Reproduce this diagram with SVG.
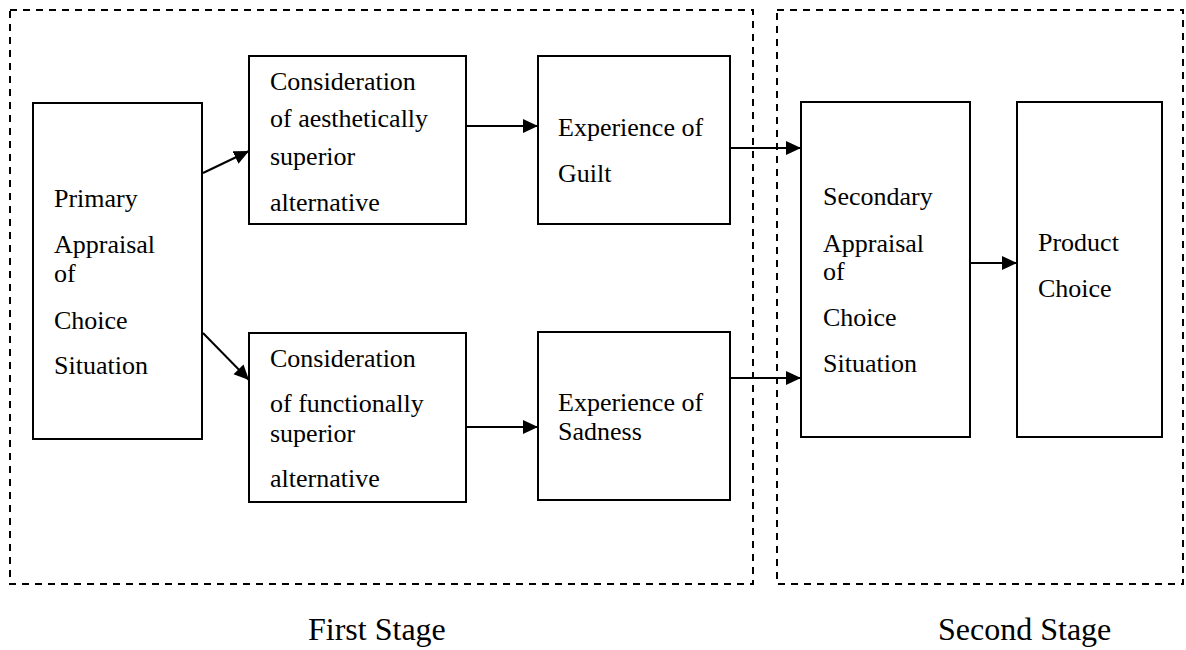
<svg xmlns="http://www.w3.org/2000/svg" width="1186" height="650" viewBox="0 0 1186 650">
  <style>
    .stage { fill: none; stroke: #000; stroke-width: 2; stroke-dasharray: 7 6; }
    .box { fill: #fff; stroke: #000; stroke-width: 2; }
    .t { font-family: "Liberation Serif", "Times New Roman", serif; font-size: 26px; fill: #000; }
    .lbl { font-family: "Liberation Serif", "Times New Roman", serif; font-size: 32px; fill: #000; }
    .conn { stroke: #000; stroke-width: 2; fill: none; marker-end: url(#arrow); }
  </style>
  <defs>
    <marker id="arrow" markerUnits="userSpaceOnUse" markerWidth="16" markerHeight="15" refX="15" refY="7" orient="auto">
      <path d="M0,0 L15,7 L0,14 Z" fill="#000"/>
    </marker>
  </defs>
  <rect width="1186" height="650" fill="#fff"/>

  <g id="stage1">
    <rect class="stage" x="10" y="10" width="743" height="574"/>
    <text class="lbl" x="308" y="640">First Stage</text>
  </g>
  <g id="stage2">
    <rect class="stage" x="777" y="10" width="406" height="574"/>
    <text class="lbl" x="938" y="640">Second Stage</text>
  </g>

  <g id="connectors">
    <line class="conn" x1="203" y1="173" x2="249" y2="151"/>
    <line class="conn" x1="203" y1="333" x2="249" y2="380"/>
    <line class="conn" x1="466" y1="126" x2="538" y2="126"/>
    <line class="conn" x1="466" y1="427" x2="538" y2="427"/>
    <line class="conn" x1="730" y1="148" x2="801" y2="148"/>
    <line class="conn" x1="730" y1="378" x2="801" y2="378"/>
    <line class="conn" x1="970" y1="263" x2="1017" y2="263"/>
  </g>

  <g id="primary">
    <rect class="box" x="33" y="103" width="169" height="336"/>
    <text class="t" x="54" y="207">Primary</text>
    <text class="t" x="54" y="253">Appraisal</text>
    <text class="t" x="54" y="282">of</text>
    <text class="t" x="54" y="329">Choice</text>
    <text class="t" x="54" y="374">Situation</text>
  </g>

  <g id="aesthetic">
    <rect class="box" x="249" y="56" width="217" height="168"/>
    <text class="t" x="270" y="90">Consideration</text>
    <text class="t" x="270" y="127">of aesthetically</text>
    <text class="t" x="270" y="165">superior</text>
    <text class="t" x="270" y="211">alternative</text>
  </g>

  <g id="functional">
    <rect class="box" x="249" y="333" width="217" height="169"/>
    <text class="t" x="270" y="367">Consideration</text>
    <text class="t" x="270" y="412">of functionally</text>
    <text class="t" x="270" y="442">superior</text>
    <text class="t" x="270" y="487">alternative</text>
  </g>

  <g id="guilt">
    <rect class="box" x="538" y="56" width="192" height="168"/>
    <text class="t" x="558" y="136">Experience of</text>
    <text class="t" x="558" y="182">Guilt</text>
  </g>

  <g id="sadness">
    <rect class="box" x="538" y="332" width="192" height="168"/>
    <text class="t" x="558" y="411">Experience of</text>
    <text class="t" x="558" y="440">Sadness</text>
  </g>

  <g id="secondary">
    <rect class="box" x="801" y="102" width="169" height="335"/>
    <text class="t" x="823" y="205">Secondary</text>
    <text class="t" x="823" y="252">Appraisal</text>
    <text class="t" x="823" y="280">of</text>
    <text class="t" x="823" y="326">Choice</text>
    <text class="t" x="823" y="372">Situation</text>
  </g>

  <g id="product">
    <rect class="box" x="1017" y="102" width="145" height="335"/>
    <text class="t" x="1038" y="251">Product</text>
    <text class="t" x="1038" y="297">Choice</text>
  </g>
</svg>
